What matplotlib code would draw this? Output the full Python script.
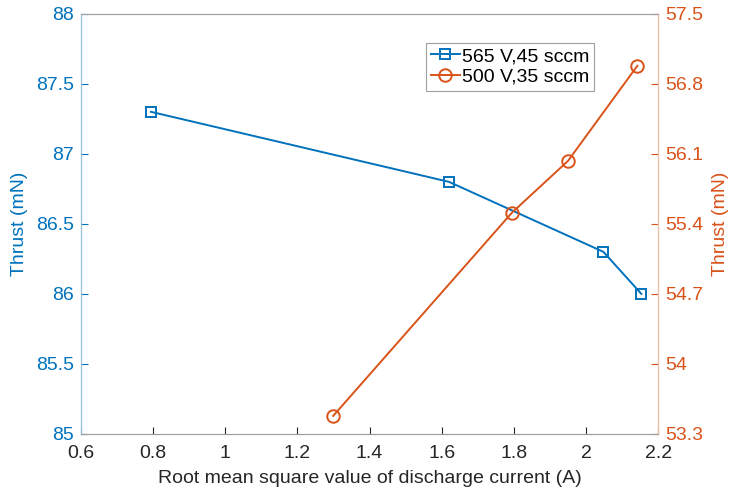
import matplotlib.pyplot as plt

plt.rcParams['font.family'] = ['Liberation Sans', 'DejaVu Sans']

# --- data ---
current_a = [0.794, 1.62, 2.048, 2.153]
thrust_a = [87.3, 86.8, 86.3, 86.0]
label_a = "565 V,45 sccm"

current_b = [1.299, 1.794, 1.95, 2.142]
thrust_b = [53.48, 55.51, 56.03, 56.98]
label_b = "500 V,35 sccm"

x_ticks = [0.6, 0.8, 1, 1.2, 1.4, 1.6, 1.8, 2, 2.2]
left_ticks = [85, 85.5, 86, 86.5, 87, 87.5, 88]
right_ticks = [53.3, 54, 54.7, 55.4, 56.1, 56.8, 57.5]

blue = "#0072BD"
orange = "#D95319"
fs = 14

fig = plt.figure(figsize=(7.29, 4.92), dpi=100)
ax = fig.add_axes([0.111, 0.118, 0.792, 0.854])
ax2 = ax.twinx()

la, = ax.plot(current_a, thrust_a, color=blue, lw=1.4, marker="s", ms=7,
              mfc="none", mew=1.4, label=label_a)
lb, = ax2.plot(current_b, thrust_b, color=orange, lw=1.4, marker="o", ms=9,
               mfc="none", mew=1.4, label=label_b)

ax.set_xlim(0.6, 2.2)
ax.set_ylim(85, 88)
ax2.set_ylim(53.3, 57.5)
ax.set_xticks(x_ticks)
ax.set_xticklabels([f"{v:g}" for v in x_ticks])
ax.set_yticks(left_ticks)
ax.set_yticklabels([f"{v:g}" for v in left_ticks])
ax2.set_yticks(right_ticks)
ax2.set_yticklabels([f"{v:g}" for v in right_ticks])

ax.tick_params(axis="x", direction="in", length=5, labelsize=fs,
               colors="#262626", pad=8)
ax.tick_params(axis="y", direction="in", length=5, labelsize=fs,
               colors=blue, labelcolor=blue, pad=5)
ax2.tick_params(axis="y", direction="in", length=5, labelsize=fs,
                colors=orange, labelcolor=orange, pad=5)

for a in (ax, ax2):
    a.spines["top"].set_color("#a0a0a0")
    a.spines["bottom"].set_color("#a0a0a0")
    a.spines["left"].set_color("#8fc0e3")
    a.spines["right"].set_color("#f0b9a3")

ax.set_xlabel("Root mean square value of discharge current (A)", fontsize=fs,
              color="#262626", labelpad=6)
ax.set_ylabel("Thrust (mN)", fontsize=fs, color=blue, labelpad=6)
ax2.set_ylabel("Thrust (mN)", fontsize=fs, color=orange, labelpad=6)

leg = ax2.legend(handles=[la, lb], loc="upper right",
                 bbox_to_anchor=(0.889, 0.931), fontsize=fs, frameon=True,
                 fancybox=False, edgecolor="#a0a0a0", framealpha=1,
                 handlelength=1.5, handletextpad=0.1, borderpad=0.25,
                 labelspacing=0.15, borderaxespad=0)
leg.get_frame().set_linewidth(0.8)

fig.savefig("out.png", dpi=100)
